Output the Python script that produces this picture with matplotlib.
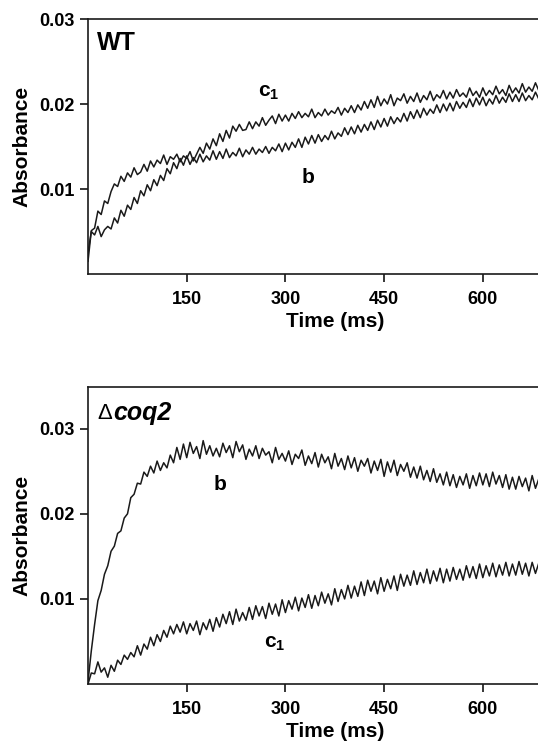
import numpy as np
import matplotlib.pyplot as plt

plt.rcParams['font.family'] = ['Liberation Sans', 'DejaVu Sans']
plt.rcParams['font.weight'] = 'bold'
plt.rcParams['axes.labelweight'] = 'bold'
plt.rcParams['mathtext.fontset'] = 'custom'
plt.rcParams['mathtext.bf'] = 'Liberation Sans:bold'
plt.rcParams['mathtext.rm'] = 'Liberation Sans'

# sampling grid of the traces (ms)
time_ms = np.arange(0, 691, 5)

# absorbance traces, in units of 1e-3
wt_c1 = [
    1.5, 5.1, 5.4, 7.4, 7.0, 8.6, 8.3, 9.7, 10.6, 10.3,
    11.5, 10.9, 11.9, 11.4, 12.5, 11.7, 12.0, 12.9, 12.1, 13.3,
    12.6, 13.4, 13.0, 14.0, 12.9, 13.8, 13.5, 14.1, 13.2, 13.9,
    13.6, 14.4, 13.3, 14.1, 14.9, 14.2, 15.4, 14.7, 15.9, 15.1,
    16.5, 15.6, 16.9, 16.0, 17.4, 16.8, 17.6, 16.9, 17.0, 17.9,
    17.1, 17.9, 17.4, 18.4, 17.5, 18.1, 18.6, 17.7, 18.8, 18.0,
    18.7, 18.0, 18.9, 18.3, 19.1, 18.4, 18.9, 18.5, 19.4, 18.4,
    19.0, 18.6, 19.4, 18.7, 19.2, 18.9, 19.6, 18.7, 19.5, 19.0,
    19.8, 19.0, 19.9, 19.3, 20.3, 19.5, 20.5, 19.6, 20.9, 19.8,
    20.6, 20.0, 21.1, 19.8, 20.7, 20.4, 21.2, 20.1, 20.9, 20.3,
    21.3, 20.2, 21.0, 20.5, 21.5, 20.4, 21.1, 20.7, 21.6, 20.6,
    21.4, 20.7, 21.7, 20.9, 21.3, 20.8, 21.9, 21.0, 21.5, 20.8,
    21.9, 21.0, 21.6, 21.1, 22.1, 21.2, 21.7, 21.0, 22.2, 21.3,
    21.9, 21.3, 22.4, 21.4, 22.0, 21.5, 22.5, 21.6, 22.1,
]
wt_b = [
    2.5, 5.0, 4.6, 5.6, 4.4, 5.2, 5.6, 5.3, 6.6, 6.0,
    7.5, 6.8, 8.1, 7.6, 9.0, 8.3, 9.8, 9.2, 10.5, 9.8,
    11.1, 10.4, 11.6, 11.0, 12.4, 11.8, 13.1, 12.4, 13.6, 12.8,
    13.9, 12.9, 13.7, 13.1, 14.1, 13.2, 13.9, 13.4, 14.5, 13.5,
    14.4, 13.6, 14.7, 13.7, 14.3, 13.9, 14.8, 13.8, 14.6, 14.1,
    14.9, 14.1, 14.7, 14.3, 15.0, 14.2, 14.9, 14.5, 15.3, 14.4,
    15.4, 14.6, 15.5, 14.9, 15.9, 14.9, 16.1, 15.3, 16.3, 15.4,
    16.4, 15.6, 16.3, 15.8, 16.8, 15.9, 16.6, 16.2, 17.2, 16.4,
    17.3, 16.5, 17.5, 16.7, 17.6, 16.9, 17.9, 17.0, 18.1, 17.3,
    18.3, 17.4, 18.5, 17.7, 18.4, 17.9, 18.9, 18.0, 19.1, 18.3,
    19.3, 18.4, 19.5, 18.7, 19.4, 18.9, 19.9, 19.0, 20.0, 19.2,
    20.1, 19.2, 20.3, 19.5, 20.2, 19.6, 20.6, 19.7, 20.7, 19.9,
    20.8, 19.8, 20.6, 20.0, 21.0, 20.1, 20.8, 20.2, 21.2, 20.3,
    21.1, 20.3, 21.3, 20.4, 21.0, 20.5, 21.4, 20.6, 21.2,
]
coq2_b = [
    0.3, 3.9, 7.0, 9.8, 11.0, 12.9, 13.9, 15.6, 16.2, 17.7,
    18.0, 19.5, 20.0, 21.9, 22.3, 23.6, 23.5, 24.9, 24.4, 25.6,
    24.8, 26.2, 25.1, 26.0, 25.4, 26.9, 26.0, 27.8, 26.4, 28.2,
    26.6, 28.4, 27.1, 27.9, 26.5, 28.6, 27.0, 28.0, 26.8, 27.7,
    26.7, 28.3, 27.2, 28.0, 26.6, 28.5, 27.3, 28.1, 26.4, 27.6,
    26.8, 28.0, 26.5, 27.7, 26.9, 27.3, 26.0, 27.8, 26.4, 27.1,
    26.2, 27.4, 25.8, 27.0, 26.5, 27.5, 25.7, 26.8, 25.9, 27.2,
    25.5, 27.0, 26.0, 26.7, 25.3, 27.1, 25.6, 26.5, 25.2, 26.8,
    25.4, 26.6, 25.0, 26.3, 25.6, 26.5, 24.8, 26.2, 25.1, 26.4,
    24.4, 26.1, 24.9, 26.3, 24.5, 25.8, 25.0, 26.0, 24.3, 25.5,
    24.2, 25.6, 24.0, 25.1, 23.8, 25.3, 23.7, 24.7, 23.4, 24.9,
    23.3, 24.6, 23.1, 24.4, 23.4, 24.7, 23.0, 24.5, 23.3, 24.8,
    23.4, 24.7, 23.2, 24.9, 23.5, 24.5, 23.1, 24.6, 22.9, 24.3,
    22.9, 24.4, 23.2, 24.2, 22.7, 24.5, 23.0, 24.1, 22.8,
]
coq2_c1 = [
    0.0, 1.3, 1.2, 2.6, 1.4, 1.9, 0.8, 2.2, 1.5, 2.8,
    2.3, 3.4, 2.9, 3.7, 3.2, 4.5, 3.4, 4.7, 4.1, 5.5,
    4.5, 5.8, 5.0, 6.3, 5.5, 6.8, 5.9, 7.0, 6.1, 7.3,
    5.9, 7.1, 6.3, 7.4, 5.8, 7.2, 6.4, 7.6, 6.2, 7.8,
    6.7, 8.2, 7.1, 8.5, 7.0, 8.8, 7.4, 8.4, 7.5, 9.0,
    7.6, 9.2, 8.0, 9.1, 7.7, 9.5, 8.2, 9.4, 8.0, 9.9,
    8.4, 9.8, 8.8, 10.2, 8.6, 10.1, 9.0, 10.5, 8.9, 10.4,
    9.2, 10.8, 9.5, 10.6, 9.3, 11.2, 9.7, 11.1, 10.0, 11.6,
    10.1, 11.5, 10.3, 12.0, 10.4, 12.2, 10.9, 12.1, 10.6, 12.5,
    10.9, 12.3, 11.2, 12.7, 11.0, 12.9, 11.5, 12.8, 11.6, 13.3,
    11.7, 13.1, 11.9, 13.5, 11.8, 13.3, 12.1, 13.6, 11.9, 13.5,
    12.1, 13.7, 12.3, 13.5, 12.2, 13.9, 12.5, 13.8, 12.4, 14.1,
    12.5, 13.9, 12.7, 14.2, 12.6, 14.0, 12.8, 14.3, 12.7, 14.1,
    12.8, 14.4, 12.9, 14.2, 12.7, 14.3, 13.0, 14.2, 12.9,
]

fig = plt.figure(figsize=(5.38, 7.44), dpi=100)
ax1 = fig.add_axes([0.1636, 0.6317, 0.9173, 0.3427])
ax2 = fig.add_axes([0.1636, 0.0806, 0.9173, 0.3992])

trace_kw = dict(color='#1a1a1a', lw=1.1)
ax1.plot(time_ms, np.array(wt_c1) * 1e-3, **trace_kw)
ax1.plot(time_ms, np.array(wt_b) * 1e-3, **trace_kw)
ax2.plot(time_ms, np.array(coq2_b) * 1e-3, **trace_kw)
ax2.plot(time_ms, np.array(coq2_c1) * 1e-3, **trace_kw)

ax1.set_ylim(0, 0.03)
ax2.set_ylim(0, 0.0349)

for ax in (ax1, ax2):
    ax.set_xlim(0, 750)
    ax.set_xticks([150, 300, 450, 600])
    ax.set_yticks([0.01, 0.02, 0.03])
    ax.set_yticklabels(['0.01', '0.02', '0.03'])
    ax.tick_params(direction='out', length=6, width=1.1, labelsize=13, pad=4)
    ax.tick_params(axis='x', pad=6)
    for s in ax.spines.values():
        s.set_linewidth(1.2)
        s.set_color('#1a1a1a')
    ax.set_xlabel('Time (ms)', fontsize=15, labelpad=3)
    ax.set_ylabel('Absorbance', fontsize=15, labelpad=5)

ax1.text(0.018, 0.905, 'WT', transform=ax1.transAxes, fontsize=18,
         fontweight='bold', va='center', ha='left')
ax1.text(275, 0.0213, r'$\mathbf{c_1}$', fontsize=15, ha='center', va='center')
ax1.text(335, 0.0113, 'b', fontsize=15, fontweight='bold', ha='center', va='center')

ax2.text(0.018, 0.912, '\u0394', transform=ax2.transAxes, fontsize=16,
         fontweight='normal', va='center', ha='left')
ax2.text(0.052, 0.912, 'coq2', transform=ax2.transAxes, fontsize=18,
         fontweight='bold', style='italic', va='center', ha='left')
ax2.text(201, 0.0234, 'b', fontsize=15, fontweight='bold', ha='center', va='center')
ax2.text(284, 0.0048, r'$\mathbf{c_1}$', fontsize=15, ha='center', va='center')

fig.savefig('out.png', dpi=100)
